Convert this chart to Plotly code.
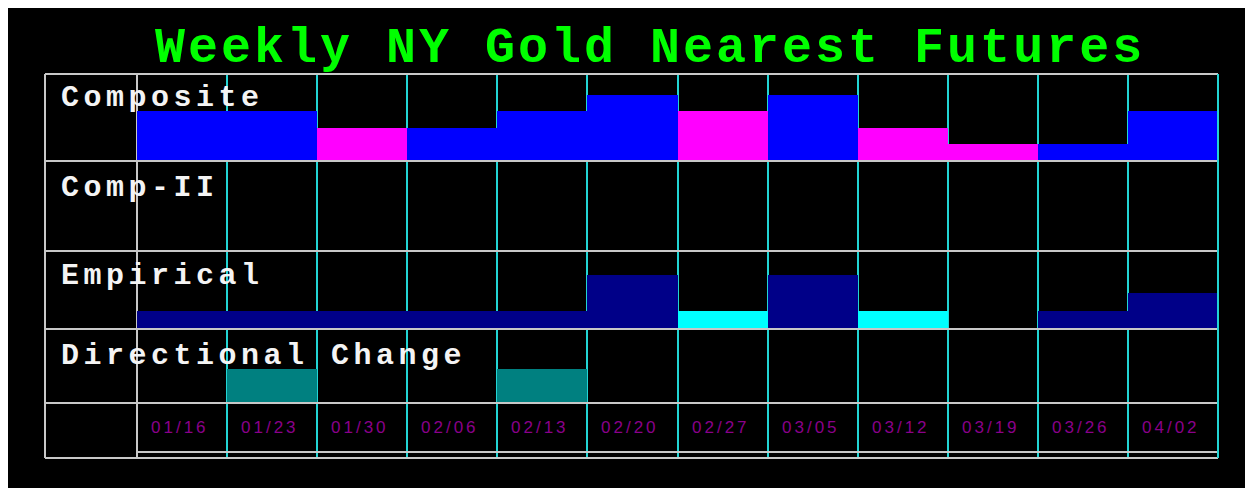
import plotly.graph_objects as go
from plotly.subplots import make_subplots

# ---------------- data ----------------
dates = ["01/16", "01/23", "01/30", "02/06", "02/13", "02/20",
         "02/27", "03/05", "03/12", "03/19", "03/26", "04/02"]
composite = [3, 3, -2, 2, 3, 4, -3, 4, -2, -1, 1, 3]
comp2 = [0, 0, 0, 0, 0, 0, 0, 0, 0, 0, 0, 0]
empirical = [1, 1, 1, 1, 1, 3, -1, 3, -1, 0, 1, 2]
directional = [0, 2, 0, 0, 2, 0, 0, 0, 0, 0, 0, 0]
row_labels = ["Composite", "Comp-II", "Empirical", "Directional Change"]
title_text = "Weekly NY Gold Nearest Futures"

# ---------------- geometry (screen pixels; page body adds an 8px offset) ----------------
OFF = 8
W, H = 1253, 488
L, R, T, B = 137, 1218, 74, 458        # plot area edges on screen
PW, PH = R - L, B - T


def px(x):
    return (x - L) / PW


def py(y):
    return (B - y) / PH


rows_px = [(74, 161), (161, 251), (251, 329), (329, 403), (403, 458)]

BLUE, MAGENTA = "#0000ff", "#ff00ff"
NAVY, CYAN, TEAL = "#000088", "#00ffff", "#008080"
GRAY = "#c8c8c8"
GRIDC = "#22d4d4"

fig = make_subplots(rows=5, cols=1, shared_xaxes=True, vertical_spacing=0)


def colors(vals, pos, neg):
    return [pos if v >= 0 else neg for v in vals]


fig.add_trace(go.Bar(x=dates, y=[abs(v) for v in composite],
                     marker=dict(color=colors(composite, BLUE, MAGENTA), line=dict(width=0)),
                     width=1), row=1, col=1)
fig.add_trace(go.Bar(x=dates, y=comp2, marker=dict(color=BLUE, line=dict(width=0)),
                     width=1), row=2, col=1)
fig.add_trace(go.Bar(x=dates, y=[abs(v) for v in empirical],
                     marker=dict(color=colors(empirical, NAVY, CYAN), line=dict(width=0)),
                     width=1), row=3, col=1)
fig.add_trace(go.Bar(x=dates, y=directional, marker=dict(color=TEAL, line=dict(width=0)),
                     width=1), row=4, col=1)
fig.add_trace(go.Bar(x=dates, y=comp2, marker=dict(color=TEAL, line=dict(width=0)),
                     width=1), row=5, col=1)

yranges = [[0, 5.24], [0, 1], [0, 4.33], [0, 4.35], [0, 1]]
for i, (top, bot) in enumerate(rows_px):
    n = i + 1
    fig.update_yaxes(domain=[py(bot), py(top)], range=yranges[i], visible=False,
                     fixedrange=True, row=n, col=1)
    fig.update_xaxes(type="category", categoryorder="array", categoryarray=dates,
                     range=[-0.5, 11.5], showgrid=True, gridcolor=GRIDC, gridwidth=2,
                     tickson="boundaries", showticklabels=False, ticks="",
                     zeroline=False, showline=False, fixedrange=True, row=n, col=1)

shapes = []
# horizontal rules
for y, x0 in [(74, 45), (161, 45), (251, 45), (329, 45), (403, 45), (452, 137), (458, 45)]:
    shapes.append(dict(type="line", xref="paper", yref="paper", x0=px(x0), x1=px(1218),
                       y0=py(y), y1=py(y), line=dict(color=GRAY, width=2), layer="above"))
# vertical rules
shapes.append(dict(type="line", xref="paper", yref="paper", x0=px(45), x1=px(45),
                   y0=py(458), y1=py(74), line=dict(color=GRAY, width=2), layer="above"))
shapes.append(dict(type="line", xref="paper", yref="paper", x0=px(137), x1=px(137),
                   y0=py(458), y1=py(74), line=dict(color=GRAY, width=2), layer="below"))
shapes.append(dict(type="line", xref="paper", yref="paper", x0=px(1218), x1=px(1218),
                   y0=py(458), y1=py(74), line=dict(color=GRIDC, width=2), layer="above"))

annotations = []
annotations.append(dict(
    text='<span style="letter-spacing:3px">' + title_text + '</span>',
    xref="paper", yref="paper", x=px(650), y=py(49), xanchor="center", yanchor="middle",
    showarrow=False, font=dict(family="Liberation Mono", size=50, color="#00ff00", weight="bold")))

label_y = [98, 188, 276, 356]
for lab, yc in zip(row_labels, label_y):
    annotations.append(dict(
        text='<span style="letter-spacing:4.5px">' + lab + '</span>',
        xref="paper", yref="paper", x=px(59), y=py(yc), xanchor="left", yanchor="middle",
        showarrow=False, font=dict(family="Liberation Mono", size=30, color="#f4f4f4", weight="bold")))

for d in dates:
    annotations.append(dict(
        text='<span style="letter-spacing:3px">' + d + '</span>',
        xref="x4", yref="paper", x=d, y=py(427), xanchor="center", yanchor="middle",
        xshift=-2, showarrow=False,
        font=dict(family="Liberation Sans", size=17, color="#8a008a")))

fig.update_layout(
    width=W, height=H,
    margin=dict(l=L - OFF, r=W - (R - OFF), t=T - OFF, b=H - (B - OFF), pad=0),
    paper_bgcolor="black", plot_bgcolor="rgba(0,0,0,0)",
    showlegend=False, bargap=0, hovermode=False,
    shapes=shapes, annotations=annotations,
)

fig.write_html("out.html")
